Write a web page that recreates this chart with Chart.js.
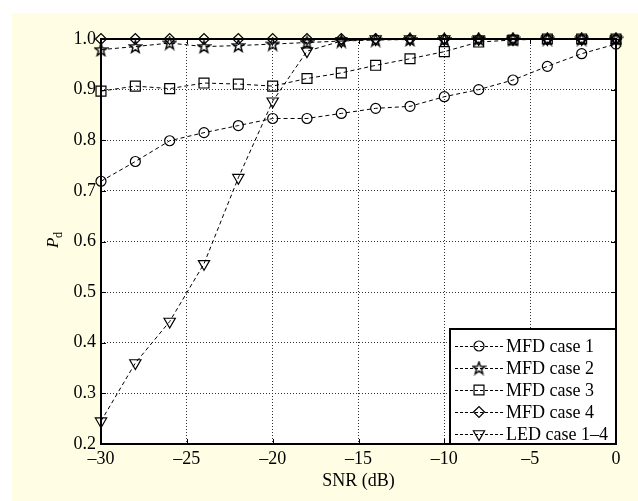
<!DOCTYPE html>
<html>
<head>
<meta charset="utf-8">
<script src="https://cdn.jsdelivr.net/npm/chart.js@4/dist/chart.umd.min.js"></script>
<style>
  html, body { margin: 0; padding: 0; background: #fff; }
  #wrap { width: 638px; height: 501px; }
</style>
</head>
<body>
<div id="wrap"><canvas id="pd-chart" width="638" height="501"></canvas></div>
<script>
// SNR sweep (dB) and detection probability for each detector
var snr = [-30, -28, -26, -24, -22, -20, -18, -16, -14, -12, -10, -8, -6, -4, -2, 0];
var mfdCase1 = [0.719, 0.758, 0.799, 0.815, 0.829, 0.843, 0.843, 0.853, 0.863, 0.867, 0.886, 0.900, 0.919, 0.946, 0.971, 0.990];
var mfdCase2 = [0.979, 0.985, 0.992, 0.985, 0.987, 0.990, 0.993, 0.996, 0.998, 0.999, 0.999, 1.000, 1.000, 1.000, 1.000, 1.000];
var mfdCase3 = [0.897, 0.907, 0.902, 0.913, 0.911, 0.907, 0.922, 0.933, 0.948, 0.961, 0.975, 0.994, 0.998, 1.000, 1.000, 1.000];
var mfdCase4 = [1.000, 1.000, 1.000, 1.000, 1.000, 1.000, 1.000, 1.000, 1.000, 1.000, 1.000, 1.000, 1.000, 1.000, 1.000, 1.000];
var ledCase14 = [0.245, 0.360, 0.442, 0.556, 0.726, 0.877, 0.976, 0.996, 1.000, 1.000, 1.000, 1.000, 1.000, 1.000, 1.000, 1.000];

var seriesLabels = ['MFD case 1', 'MFD case 2', 'MFD case 3', 'MFD case 4', 'LED case 1\u20134'];
var xTicks = [-30, -25, -20, -15, -10, -5, 0];
var yTicks = [0.2, 0.3, 0.4, 0.5, 0.6, 0.7, 0.8, 0.9, 1.0];

var FONT = "'Liberation Serif', 'Times New Roman', serif";

// five point star outline, used as a point image
function makePentagram(){
	var c = document.createElement('canvas');
	c.width = 15; c.height = 15;
	var g = c.getContext('2d');
	var cx = 7.5, cy = 8, ro = 6.5, ri = 2.6;
	g.beginPath();
	for( var i = 0; i < 10; i++ ){
		var r = (i % 2 === 0) ? ro : ri;
		var a = -Math.PI / 2 + i * Math.PI / 5;
		var px = cx + r * Math.cos(a), py = cy + r * Math.sin(a);
		if( i === 0 ) g.moveTo(px, py); else g.lineTo(px, py);
	}
	g.closePath();
	g.strokeStyle = '#000';
	g.lineWidth = 1.4;
	g.stroke();
	return c;
}
var pentagram = makePentagram();

function toPoints( ys ){
	return snr.map(function(x, i){ return { x: x, y: ys[i] }; });
}

function series( label, ys, style, radius, rotation ){
	return {
		label: label,
		data: toPoints(ys),
		borderColor: '#000',
		borderWidth: 1,
		borderDash: [4, 3],
		pointStyle: style,
		pointRadius: radius,
		pointHoverRadius: radius,
		pointRotation: rotation || 0,
		pointBorderColor: '#000',
		pointBackgroundColor: 'rgba(0,0,0,0)',
		pointBorderWidth: 1.2,
		tension: 0,
		clip: false
	};
}

var datasets = [
	series(seriesLabels[0], mfdCase1, 'circle', 5),
	series(seriesLabels[1], mfdCase2, pentagram, 7),
	series(seriesLabels[2], mfdCase3, 'rect', 7),
	series(seriesLabels[3], mfdCase4, 'rectRot', 5.5),
	series(seriesLabels[4], ledCase14, 'triangle', 6.5, 180)
];

// page background: white margin, pale yellow figure
var figureBackground = {
	id: 'figureBackground',
	beforeDraw: function(chart){
		var ctx = chart.ctx;
		ctx.save();
		ctx.fillStyle = '#ffffff';
		ctx.fillRect(0, 0, chart.width, chart.height);
		ctx.fillStyle = '#fffde3';
		ctx.fillRect(12, 13, chart.width - 12, chart.height - 13);
		var a = chart.chartArea;
		ctx.fillStyle = '#ffffff';
		ctx.fillRect(a.left, a.top, a.right - a.left, a.bottom - a.top);
		ctx.restore();
	}
};

// axes box, inward ticks, y label with subscript, legend
var axesDecor = {
	id: 'axesDecor',
	afterDatasetsDraw: function(chart){
		var ctx = chart.ctx, a = chart.chartArea;
		var xs = chart.scales.x, ys = chart.scales.y;
		ctx.save();
		ctx.strokeStyle = '#000';
		ctx.lineWidth = 1;
		ctx.setLineDash([]);
		ctx.beginPath();
		xTicks.forEach(function(v){
			var px = Math.round(xs.getPixelForValue(v)) + 0.5;
			ctx.moveTo(px, a.bottom); ctx.lineTo(px, a.bottom - 5);
			ctx.moveTo(px, a.top); ctx.lineTo(px, a.top + 5);
		});
		yTicks.forEach(function(v){
			var py = Math.round(ys.getPixelForValue(v)) + 0.5;
			ctx.moveTo(a.left, py); ctx.lineTo(a.left + 5, py);
			ctx.moveTo(a.right, py); ctx.lineTo(a.right - 5, py);
		});
		ctx.stroke();
		ctx.lineWidth = 2;
		ctx.strokeRect(a.left, a.top, a.right - a.left, a.bottom - a.top);

		// P_d axis label
		ctx.fillStyle = '#000';
		ctx.translate(58, 248);
		ctx.rotate(-Math.PI / 2);
		ctx.textBaseline = 'alphabetic';
		ctx.textAlign = 'left';
		ctx.font = 'italic 17px ' + FONT;
		ctx.fillText('P', 0, 0);
		var wP = ctx.measureText('P').width;
		ctx.font = '12px ' + FONT;
		ctx.fillText('d', wP - 0.5, 4);
		ctx.restore();

		// legend box in the lower right corner
		var bw = 166, bh = 115;
		var bx = a.right - bw, by = a.bottom - bh;
		ctx.save();
		ctx.fillStyle = '#fff';
		ctx.fillRect(bx, by, bw, bh);
		ctx.strokeStyle = '#000';
		ctx.lineWidth = 2;
		ctx.strokeRect(bx, by, bw, bh);
		ctx.font = '18px ' + FONT;
		ctx.textBaseline = 'middle';
		ctx.textAlign = 'left';
		chart.data.datasets.forEach(function(ds, i){
			var rowY = by + 17 + i * 22;
			ctx.lineWidth = 1;
			ctx.setLineDash([3, 2]);
			ctx.beginPath();
			ctx.moveTo(bx + 5, rowY + 0.5);
			ctx.lineTo(bx + 54, rowY + 0.5);
			ctx.stroke();
			ctx.setLineDash([]);
			ctx.lineWidth = 1.2;
			ctx.fillStyle = 'rgba(0,0,0,0)';
			Chart.helpers.drawPoint(ctx, {
				pointStyle: ds.pointStyle,
				rotation: ds.pointRotation,
				radius: ds.pointRadius,
				borderWidth: 1.2
			}, bx + 29, rowY);
			ctx.fillStyle = '#000';
			ctx.fillText(ds.label, bx + 56, rowY + 1);
		});
		ctx.restore();
	}
};

Chart.defaults.font.family = FONT;
Chart.defaults.font.size = 18;
Chart.defaults.color = '#000';

new Chart(document.getElementById('pd-chart'), {
	type: 'line',
	data: { datasets: datasets },
	options: {
		responsive: false,
		animation: false,
		events: [],
		layout: { padding: { left: 0, top: 39, right: 22, bottom: 0 } },
		plugins: {
			legend: { display: false },
			tooltip: { enabled: false }
		},
		scales: {
			x: {
				type: 'linear',
				min: -30,
				max: 0,
				afterFit: function(scale){ scale.height = 57; },
				afterBuildTicks: function(scale){
					scale.ticks = xTicks.map(function(v){ return { value: v }; });
				},
				ticks: {
					padding: 4,
					maxRotation: 0,
					autoSkip: false,
					callback: function(v){ return String(v).replace('-', '\u2013'); }
				},
				grid: { color: '#333', lineWidth: 1, drawTicks: false },
				border: { display: false, dash: [1, 2] },
				title: {
					display: true,
					text: 'SNR (dB)',
					font: { size: 18 },
					padding: { top: 0, bottom: 9 }
				}
			},
			y: {
				min: 0.2,
				max: 1.0,
				afterFit: function(scale){ scale.width = 101; },
				afterBuildTicks: function(scale){
					scale.ticks = yTicks.map(function(v){ return { value: v }; });
				},
				ticks: {
					padding: 5,
					autoSkip: false,
					callback: function(v){ return Number(v).toFixed(1); }
				},
				grid: { color: '#333', lineWidth: 1, drawTicks: false },
				border: { display: false, dash: [1, 2] }
			}
		}
	},
	plugins: [figureBackground, axesDecor]
});
</script>
</body>
</html>
